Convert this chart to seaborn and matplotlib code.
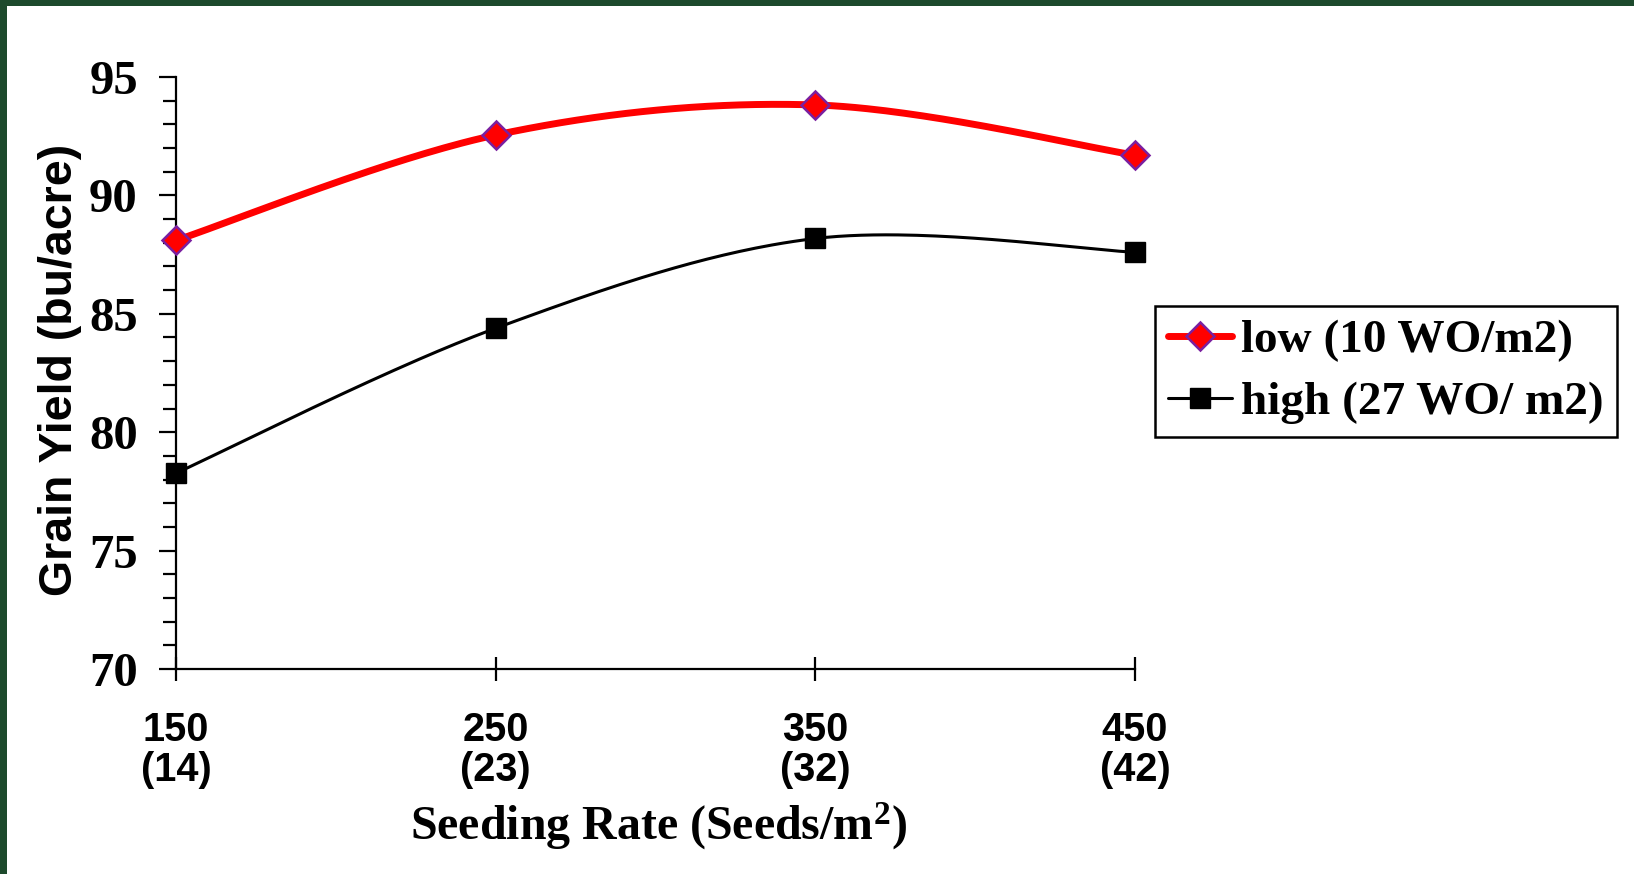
import numpy as np
import pandas as pd
import matplotlib
matplotlib.use("Agg")
import matplotlib.pyplot as plt
from matplotlib.lines import Line2D
from matplotlib.patches import Rectangle
import seaborn as sns

# ---- data ----
seeding_rate = [150, 250, 350, 450]
tick_labels = ["150\n(14)", "250\n(23)", "350\n(32)", "450\n(42)"]
low_yield = [88.1, 92.55, 93.82, 91.7]
high_yield = [78.27, 84.39, 88.18, 87.6]
series_names = ["low (10 WO/m2)", "high (27 WO/ m2)"]

sns.set_theme(style="white")
plt.rcParams['font.family'] = ['Liberation Serif', 'DejaVu Serif']
plt.rcParams['text.color'] = 'black'
plt.rcParams['axes.labelcolor'] = 'black'
plt.rcParams['xtick.color'] = 'black'
plt.rcParams['ytick.color'] = 'black'
plt.rcParams['mathtext.fontset'] = 'custom'
plt.rcParams['mathtext.rm'] = 'Liberation Serif:bold'
plt.rcParams['mathtext.bf'] = 'Liberation Serif:bold'
plt.rcParams['mathtext.it'] = 'Liberation Serif:bold'
plt.rcParams['mathtext.default'] = 'rm'

W, H = 1634, 874
fig = plt.figure(figsize=(W / 100, H / 100), dpi=100)
fig.patch.set_facecolor("white")

# green frame strips (decor of the slide)
fig.patches.append(Rectangle((0, 1 - 6 / H), 1, 6 / H, transform=fig.transFigure,
                             facecolor="#1d4a2c", edgecolor="none", zorder=0))
fig.patches.append(Rectangle((0, 0), 7 / W, 1, transform=fig.transFigure,
                             facecolor="#1d4a2c", edgecolor="none", zorder=0))

x0, x1 = 176 / W, 1135 / W
y0, y1 = 1 - 669 / H, 1 - 77 / H
ax = fig.add_axes([x0, y0, x1 - x0, y1 - y0])
ax.set_facecolor("none")


def smooth(xs, ys, n=60):
    """Excel-like smoothed line (Catmull-Rom Bezier) through the data points."""
    P = np.column_stack([xs, ys]).astype(float)
    ext = np.vstack([P[0], P, P[-1]])
    out = []
    t = np.linspace(0, 1, n)[:, None]
    for i in range(len(P) - 1):
        p0, p1, pm, pp = ext[i + 1], ext[i + 2], ext[i], ext[i + 3]
        c1 = p0 + (p1 - pm) / 6
        c2 = p1 - (pp - p0) / 6
        seg = ((1 - t) ** 3) * p0 + 3 * ((1 - t) ** 2) * t * c1 + 3 * (1 - t) * t ** 2 * c2 + t ** 3 * p1
        out.append(seg if i == 0 else seg[1:])
    return np.vstack(out)


low_curve = smooth(seeding_rate, low_yield)
high_curve = smooth(seeding_rate, high_yield)
df_low = pd.DataFrame({"x": low_curve[:, 0], "y": low_curve[:, 1]})
df_high = pd.DataFrame({"x": high_curve[:, 0], "y": high_curve[:, 1]})

sns.lineplot(data=df_low, x="x", y="y", ax=ax, color="#ff0000", lw=5, sort=False,
             estimator=None, zorder=3, clip_on=False)
sns.lineplot(data=df_high, x="x", y="y", ax=ax, color="black", lw=2.2, sort=False,
             estimator=None, zorder=3, clip_on=False)

pts = pd.DataFrame({"x": seeding_rate, "low": low_yield, "high": high_yield})
ax.plot(pts["x"], pts["low"], ls="none", marker="D", ms=14, mfc="#ff0000",
        mec="#7a1fa0", mew=1.8, zorder=4, clip_on=False)
ax.plot(pts["x"], pts["high"], ls="none", marker="s", ms=14, mfc="black",
        mec="black", zorder=4, clip_on=False)

ax.set_xlim(150, 450)
ax.set_ylim(70, 95)

for s in ["top", "right"]:
    ax.spines[s].set_visible(False)
for s in ["left", "bottom"]:
    ax.spines[s].set_color("black")
    ax.spines[s].set_linewidth(1.6)

ax.set_yticks([70, 75, 80, 85, 90, 95])
ax.set_yticks(np.arange(70, 95.5, 1), minor=True)
ax.set_yticklabels(["70", "75", "80", "85", "90", "95"], fontsize=35,
                   fontweight="bold", family=["Liberation Serif"], color="black")
ax.tick_params(axis="y", which="major", direction="out", length=12.5, width=1.6,
               color="black", pad=15, left=True)
ax.tick_params(axis="y", which="minor", direction="out", length=9.5, width=1.6,
               color="black", left=True)

ax.set_xticks(seeding_rate)
ax.set_xticklabels(tick_labels, fontsize=28.5, fontweight="bold",
                   family=["Liberation Sans"], linespacing=1.05, color="black")
ax.tick_params(axis="x", which="major", direction="inout", length=17, width=1.6,
               color="black", pad=22, bottom=True)
ax.tick_params(axis="x", which="minor", bottom=False)

ax.set_xlabel("")
ax.set_ylabel("")
fig.text(658 / W, 1 - 826 / H, r"Seeding Rate (Seeds/m$^{2}$)", ha="center",
         va="center", fontsize=34.5, fontweight="bold", family=["Liberation Serif"],
         color="black")
fig.text(60 / W, 1 - 370 / H, "Grain Yield (bu/acre)", rotation=90, ha="center",
         va="center", fontsize=33.5, fontweight="bold", family=["Liberation Sans"],
         color="black")

handles = [
    Line2D([], [], color="#ff0000", lw=5, marker="D", ms=14, mfc="#ff0000",
           mec="#7a1fa0", mew=1.8),
    Line2D([], [], color="black", lw=2.2, marker="s", ms=14, mfc="black", mec="black"),
]
leg = fig.legend(handles, series_names, loc="upper left",
                 bbox_to_anchor=(1155 / W, 1 - 306 / H), bbox_transform=fig.transFigure,
                 prop={"family": "Liberation Serif", "weight": "bold", "size": 34},
                 frameon=True, fancybox=False, edgecolor="black", framealpha=1,
                 handlelength=1.35, handletextpad=0.2, labelspacing=0.4,
                 borderpad=0.28, borderaxespad=0, markerscale=1.0)
leg.get_frame().set_linewidth(1.8)
for t in leg.get_texts():
    t.set_color("black")

fig.savefig("out.png", dpi=100, facecolor="white")
